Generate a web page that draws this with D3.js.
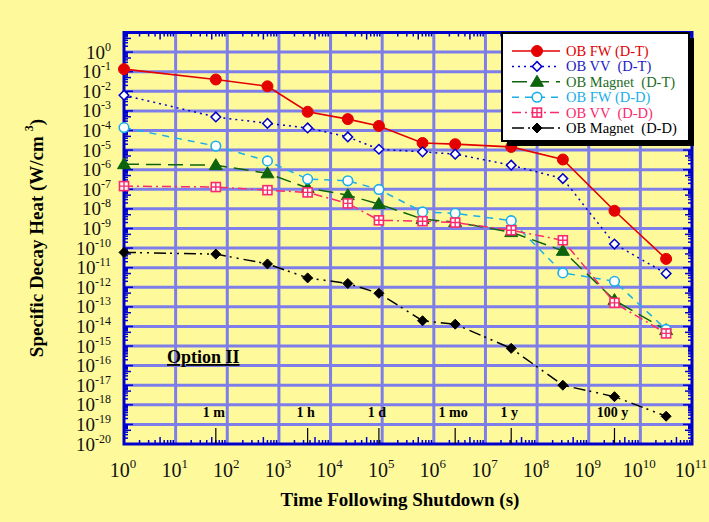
<!DOCTYPE html>
<html>
<head>
<meta charset="utf-8">
<title>Specific Decay Heat</title>
<script src="https://d3js.org/d3.v7.min.js"></script>
<style>
  body { margin: 0; background: #fefa9c; }
  svg text { font-family: "Liberation Serif", "Times New Roman", serif; }
</style>
</head>
<body>
<div id="chart"></div>
<script>
// tempos (s) onde os pontos foram calculados
var tempos = [1, 60, 600, 3600, 21600, 86400, 604800, 2.592e6, 3.1536e7, 3.1536e8, 3.1536e9, 3.1536e10];

// valores (W/cm3)
var fwDT     = [0.135, 0.04, 0.018, 9e-4, 3.8e-4, 1.7e-4, 2.3e-5, 2e-5, 1.45e-5, 3.3e-6, 8e-9, 2.8e-11];
var vvDT     = [6.3e-3, 4.9e-4, 2.3e-4, 1.35e-4, 4.7e-5, 1.1e-5, 8.1e-6, 6.2e-6, 1.7e-6, 3.5e-7, 1.6e-10, 5e-12];
var magnetDT = [1.9e-6, 1.7e-6, 6.5e-7, 1.15e-7, 5e-8, 1.75e-8, 3e-9, 2.1e-9, 6.5e-10, 7.2e-11, 2.2e-13, 6.5e-15];
var fwDD     = [1.4e-4, 1.6e-5, 2.8e-6, 3.3e-7, 2.7e-7, 9.8e-8, 7e-9, 5.9e-9, 2.5e-9, 5.4e-12, 2e-12, 7e-15];
var vvDD     = [1.45e-7, 1.3e-7, 9e-8, 6.9e-8, 1.9e-8, 2.6e-9, 2.35e-9, 2e-9, 8.1e-10, 2.5e-10, 1.6e-13, 4.4e-15];
var magnetDD = [6e-11, 4.9e-11, 1.55e-11, 3e-12, 1.55e-12, 4.9e-13, 1.95e-14, 1.3e-14, 7.6e-16, 1e-17, 2.6e-18, 2.6e-19];

var nomesSeries = ["OB FW (D-T)", "OB VV  (D-T)", "OB Magnet  (D-T)", "OB FW (D-D)", "OB VV  (D-D)", "OB Magnet  (D-D)"];

// marcas de tempo (1 m, 1 h ...)
var marcasNomes = ["1 m", "1 h", "1 d", "1 mo", "1 y", "100 y"];
var marcasTempos = [60, 3600, 86400, 2.592e6, 3.1536e7, 3.1536e9];

var expoentesX = d3.range(0, 12);   // 10^0 .. 10^11
var expoentesY = d3.range(0, -21, -1); // 10^0 .. 10^-20

var largura = 709, altura = 522;
var svg = d3.select("#chart").append("svg")
  .attr("width", largura).attr("height", altura);

svg.append("rect").attr("width", largura).attr("height", altura).attr("fill", "#fefa9c");

var x = d3.scaleLog().domain([1, 1e11]).range([124, 692]);
var y = d3.scaleLog().domain([10, 1e-20]).range([32.5, 444]);

var series = [
  {nome: nomesSeries[0], valores: fwDT, cor: "#e40000", texto: "#e00000", dash: null, marca: "circulo", cheio: true},
  {nome: nomesSeries[1], valores: vvDT, cor: "#0000cc", texto: "#1c1cc4", dash: "2,4", marca: "losango", cheio: false},
  {nome: nomesSeries[2], valores: magnetDT, cor: "#0c640c", texto: "#1d6d1d", dash: "15,7", marca: "triangulo", cheio: true},
  {nome: nomesSeries[3], valores: fwDD, cor: "#1aaeea", texto: "#1aaeea", dash: "7,6", marca: "circulo", cheio: false},
  {nome: nomesSeries[4], valores: vvDD, cor: "#fb2a6c", texto: "#fb2a6c", dash: "9,4,2,4", marca: "quadrado", cheio: false},
  {nome: nomesSeries[5], valores: magnetDD, cor: "#000000", texto: "#000000", dash: "12,4,2,5,2,5", marca: "losango", cheio: true}
];

/*
 * grade
 */
var grade = svg.append("g");
grade.selectAll("line.v")
  .data(expoentesX.slice(1, -1))
  .enter().append("line")
    .attr("x1", d => x(Math.pow(10, d))).attr("x2", d => x(Math.pow(10, d)))
    .attr("y1", y(10)).attr("y2", y(1e-20))
    .attr("stroke", "#7e7eea").attr("stroke-width", 3);
grade.selectAll("line.h")
  .data(expoentesY.slice(0, -1))
  .enter().append("line")
    .attr("y1", d => y(Math.pow(10, d))).attr("y2", d => y(Math.pow(10, d)))
    .attr("x1", x(1)).attr("x2", x(1e11))
    .attr("stroke", "#7e7eea").attr("stroke-width", 3);

// ticks menores (2..9) em todos os lados
var ticksX = [], ticksY = [];
for (var e = 0; e < 11; e++) for (var m = 2; m < 10; m++) ticksX.push(m * Math.pow(10, e));
for (var e = -20; e < 1; e++) for (var m = 2; m < 10; m++) ticksY.push(m * Math.pow(10, e));

var eixos = svg.append("g").attr("stroke", "#0000cc").attr("stroke-width", 1.5);
ticksX.forEach(function(t) {
  var tam = (t / Math.pow(10, Math.floor(Math.log10(t) + 1e-9)) === 5) ? 7 : 4;
  eixos.append("line").attr("x1", x(t)).attr("x2", x(t)).attr("y1", y(1e-20)).attr("y2", y(1e-20) - tam);
  eixos.append("line").attr("x1", x(t)).attr("x2", x(t)).attr("y1", y(10)).attr("y2", y(10) + tam);
});
ticksY.forEach(function(t) {
  var tam = (t / Math.pow(10, Math.floor(Math.log10(t) + 1e-9)) === 5) ? 7 : 4;
  eixos.append("line").attr("y1", y(t)).attr("y2", y(t)).attr("x1", x(1)).attr("x2", x(1) + tam);
  eixos.append("line").attr("y1", y(t)).attr("y2", y(t)).attr("x1", x(1e11)).attr("x2", x(1e11) - tam);
});
expoentesY.forEach(function(e) {
  var v = Math.pow(10, e);
  eixos.append("line").attr("y1", y(v)).attr("y2", y(v)).attr("x1", x(1)).attr("x2", x(1) + 9);
  eixos.append("line").attr("y1", y(v)).attr("y2", y(v)).attr("x1", x(1e11)).attr("x2", x(1e11) - 9);
});

svg.append("rect")
  .attr("x", x(1)).attr("y", y(10))
  .attr("width", x(1e11) - x(1)).attr("height", y(1e-20) - y(10))
  .attr("fill", "none").attr("stroke", "#0000cc").attr("stroke-width", 3);

/*
 * rotulos dos eixos
 */
var rotY = svg.append("g").selectAll("text")
  .data(expoentesY)
  .enter().append("text")
    .attr("x", 111)
    .attr("y", d => y(Math.pow(10, d)) + 6.5)
    .attr("text-anchor", "end")
    .attr("font-size", 19)
    .attr("fill", "#111");
rotY.append("tspan").text("10");
rotY.append("tspan").attr("font-size", 12).attr("dy", -8).text(d => d);

var rotX = svg.append("g").selectAll("text")
  .data(expoentesX)
  .enter().append("text")
    .attr("x", d => x(Math.pow(10, d)) - 1)
    .attr("y", 477)
    .attr("text-anchor", "middle")
    .attr("font-size", 20)
    .attr("fill", "#111");
rotX.append("tspan").text("10");
rotX.append("tspan").attr("font-size", 13).attr("dy", -9).text(d => d);

svg.append("text")
  .attr("x", 400).attr("y", 506)
  .attr("text-anchor", "middle")
  .attr("font-size", 19).attr("font-weight", "bold")
  .text("Time Following Shutdown (s)");

var tituloY = svg.append("text")
  .attr("transform", "translate(43,238) rotate(-90)")
  .attr("text-anchor", "middle")
  .attr("font-size", 19).attr("font-weight", "bold");
tituloY.append("tspan").text("Specific Decay Heat (W/cm");
tituloY.append("tspan").attr("font-size", 12).attr("dy", -10).attr("dx", 5).text("3");
tituloY.append("tspan").attr("dy", 10).text(")");

/*
 * anotacoes
 */
svg.append("text")
  .attr("x", 167).attr("y", 363)
  .attr("font-size", 18).attr("font-weight", "bold")
  .style("text-decoration", "underline")
  .text("Option II");

svg.append("g").selectAll("line")
  .data(marcasTempos)
  .enter().append("line")
    .attr("x1", d => x(d)).attr("x2", d => x(d))
    .attr("y1", 428).attr("y2", y(1e-20))
    .attr("stroke", "#000").attr("stroke-width", 1.2);
svg.append("g").selectAll("text")
  .data(marcasNomes)
  .enter().append("text")
    .attr("x", (d, i) => x(marcasTempos[i]) - 2)
    .attr("y", 417)
    .attr("text-anchor", "middle")
    .attr("font-size", 14).attr("font-weight", "bold")
    .text(d => d);

/*
 * marcadores
 */
function desenhaMarca(g, s, px, py) {
  var fill = s.cheio ? s.cor : "#fff";
  if (s.marca === "circulo") {
    g.append("circle").attr("cx", px).attr("cy", py)
      .attr("r", s.cheio ? 5.5 : 4.8)
      .attr("fill", fill).attr("stroke", s.cor).attr("stroke-width", s.cheio ? 1 : 1.6);
  } else if (s.marca === "losango") {
    var r = s.cheio ? 5 : 4.8;
    g.append("path")
      .attr("d", "M" + px + "," + (py - r) + "L" + (px + r) + "," + py + "L" + px + "," + (py + r) + "L" + (px - r) + "," + py + "Z")
      .attr("fill", fill).attr("stroke", s.cor).attr("stroke-width", s.cheio ? 1 : 1.5);
  } else if (s.marca === "triangulo") {
    g.append("path")
      .attr("d", "M" + px + "," + (py - 6.5) + "L" + (px + 6.5) + "," + (py + 4.5) + "L" + (px - 6.5) + "," + (py + 4.5) + "Z")
      .attr("fill", fill).attr("stroke", s.cor).attr("stroke-width", 1);
  } else if (s.marca === "quadrado") {
    g.append("rect").attr("x", px - 4.5).attr("y", py - 4.5).attr("width", 9).attr("height", 9)
      .attr("fill", "#fff").attr("stroke", s.cor).attr("stroke-width", 1.6);
    g.append("path")
      .attr("d", "M" + px + "," + (py - 4.5) + "V" + (py + 4.5) + "M" + (px - 4.5) + "," + py + "H" + (px + 4.5))
      .attr("stroke", s.cor).attr("stroke-width", 1.4);
  }
}

var linha = d3.line()
  .x((d, i) => x(tempos[i]))
  .y(d => y(d));

series.forEach(function(s) {
  var g = svg.append("g");
  g.append("path")
    .attr("d", linha(s.valores))
    .attr("fill", "none")
    .attr("stroke", s.cor)
    .attr("stroke-width", s.cor === "#e40000" ? 1.6 : 1.5)
    .attr("stroke-dasharray", s.dash);
  s.valores.forEach(function(v, i) { desenhaMarca(g, s, x(tempos[i]), y(v)); });
});

/*
 * legenda
 */
var leg = svg.append("g");
leg.append("rect").attr("x", 507).attr("y", 38).attr("width", 187).attr("height", 108).attr("fill", "#000");
leg.append("rect").attr("x", 502).attr("y", 33).attr("width", 187).attr("height", 108)
  .attr("fill", "#fff").attr("stroke", "#000").attr("stroke-width", 2);

series.forEach(function(s, i) {
  var ly = 51 + i * 15.4;
  leg.append("line")
    .attr("x1", 512).attr("x2", 560).attr("y1", ly).attr("y2", ly)
    .attr("stroke", s.cor).attr("stroke-width", 1.5)
    .attr("stroke-dasharray", s.dash);
  desenhaMarca(leg, s, 537, ly);
  leg.append("text")
    .attr("x", 566).attr("y", ly + 5)
    .attr("font-size", 14.5)
    .attr("fill", s.texto)
    .style("white-space", "pre")
    .text(s.nome);
});
</script>
</body>
</html>
